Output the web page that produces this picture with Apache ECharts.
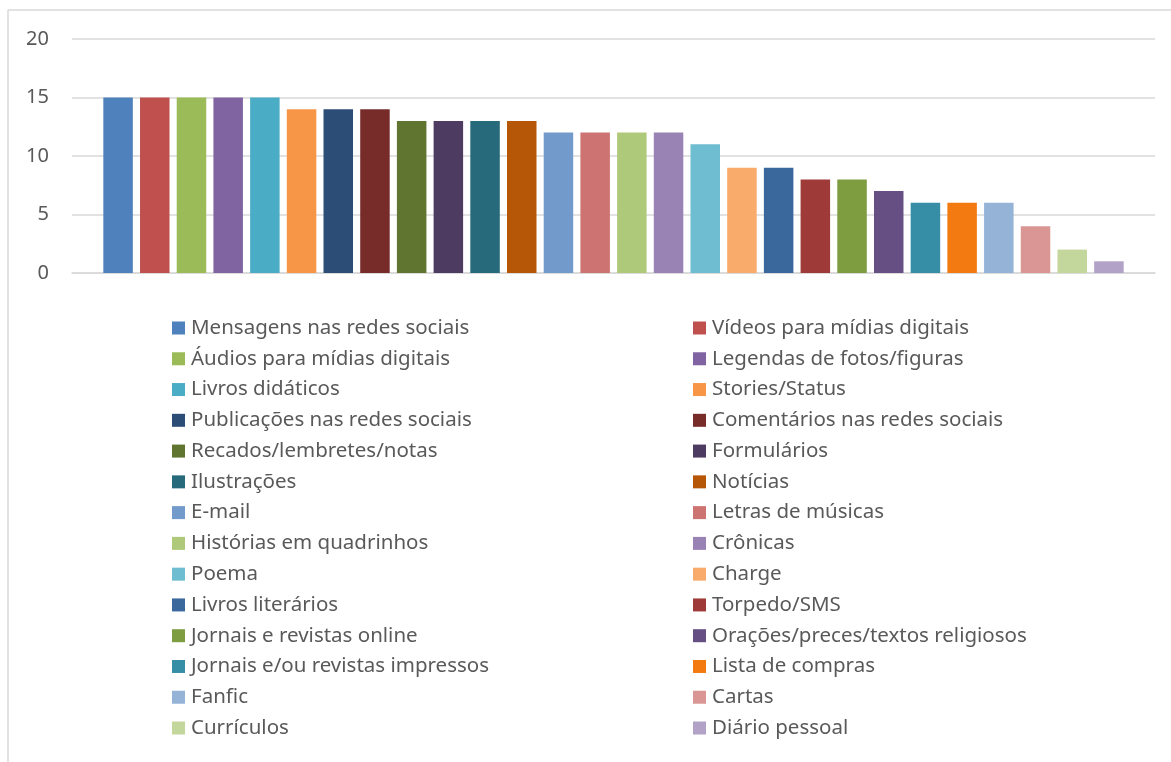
<!DOCTYPE html>
<html>
<head>
<meta charset="utf-8">
<script src="https://cdn.jsdelivr.net/npm/echarts@6/dist/echarts.min.js"></script>
<style>
  html, body { margin: 0; padding: 0; background: #fff; }
  #chart { width: 1171px; height: 762px; }
</style>
</head>
<body>
<div id="chart"></div>
<script>
var names = [
  'Mensagens nas redes sociais', 'Vídeos para mídias digitais',
  'Áudios para mídias digitais', 'Legendas de fotos/figuras',
  'Livros didáticos', 'Stories/Status',
  'Publicações nas redes sociais', 'Comentários nas redes sociais',
  'Recados/lembretes/notas', 'Formulários',
  'Ilustrações', 'Notícias',
  'E-mail', 'Letras de músicas',
  'Histórias em quadrinhos', 'Crônicas',
  'Poema', 'Charge',
  'Livros literários', 'Torpedo/SMS',
  'Jornais e revistas online', 'Orações/preces/textos religiosos',
  'Jornais e/ou revistas impressos', 'Lista de compras',
  'Fanfic', 'Cartas',
  'Currículos', 'Diário pessoal'
];
var values = [15, 15, 15, 15, 15, 14, 14, 14, 13, 13, 13, 13, 12, 12, 12, 12, 11, 9, 9, 8, 8, 7, 6, 6, 6, 4, 2, 1];
var colors = [
  '#4F81BD', '#C0504D', '#9BBB59', '#8064A2', '#4BACC6', '#F79646',
  '#2C4D75', '#772C2A', '#5F7530', '#4D3B62', '#276A7C', '#B65708',
  '#729ACA', '#CD7371', '#AFC97A', '#9983B5', '#6FBDD1', '#F9AB6B',
  '#3A679C', '#9E3B38', '#7E9D40', '#664F83', '#358EA6', '#F37A10',
  '#95B3D7', '#D99694', '#C3D69B', '#B2A2C7'
];
var yTicks = [0, 5, 10, 15, 20];

var txt = '#595959';
var font = 'Noto Sans';

var series = [];
for (var i = 0; i < names.length; i++) {
  series.push({
    name: names[i],
    type: 'bar',
    data: [values[i]],
    barWidth: 29.5,
    barGap: '24.4%',
    itemStyle: { color: colors[i] }
  });
}
var leftNames = names.filter(function (n, i) { return i % 2 == 0; });
var rightNames = names.filter(function (n, i) { return i % 2 == 1; });

function legendCfg(data, left) {
  return {
    orient: 'vertical',
    left: left,
    top: 317,
    padding: 0,
    data: data,
    icon: 'rect',
    itemWidth: 13,
    itemHeight: 13,
    itemGap: 8.77,
    selectedMode: false,
    textStyle: { color: txt, fontSize: 20.5, fontFamily: font, padding: [0, 0, 0, 1], lineHeight: 22 }
  };
}

var chart = echarts.init(document.getElementById('chart'));
chart.setOption({
  animation: false,
  color: colors,
  grid: { left: 72, right: 16, top: 39, height: 234, containLabel: false },
  xAxis: {
    type: 'category',
    data: [''],
    axisLine: { show: true, lineStyle: { color: '#D9D9D9', width: 1.5 } },
    axisTick: { show: false },
    axisLabel: { show: false }
  },
  yAxis: {
    type: 'value',
    min: yTicks[0],
    max: yTicks[yTicks.length - 1],
    interval: 5,
    axisLine: { show: false },
    axisTick: { show: false },
    axisLabel: { color: txt, fontSize: 20, fontFamily: font, margin: 23 },
    splitLine: { lineStyle: { color: '#D9D9D9', width: 1.5 } }
  },
  legend: [legendCfg(leftNames, 172), legendCfg(rightNames, 693)],
  graphic: [
    { type: 'line', shape: { x1: 8, y1: 10, x2: 1171, y2: 10 }, style: { stroke: '#D9D9D9', lineWidth: 1.5 } },
    { type: 'line', shape: { x1: 8, y1: 10, x2: 8, y2: 762 }, style: { stroke: '#D9D9D9', lineWidth: 1.5 } }
  ],
  series: series
});
</script>
</body>
</html>
